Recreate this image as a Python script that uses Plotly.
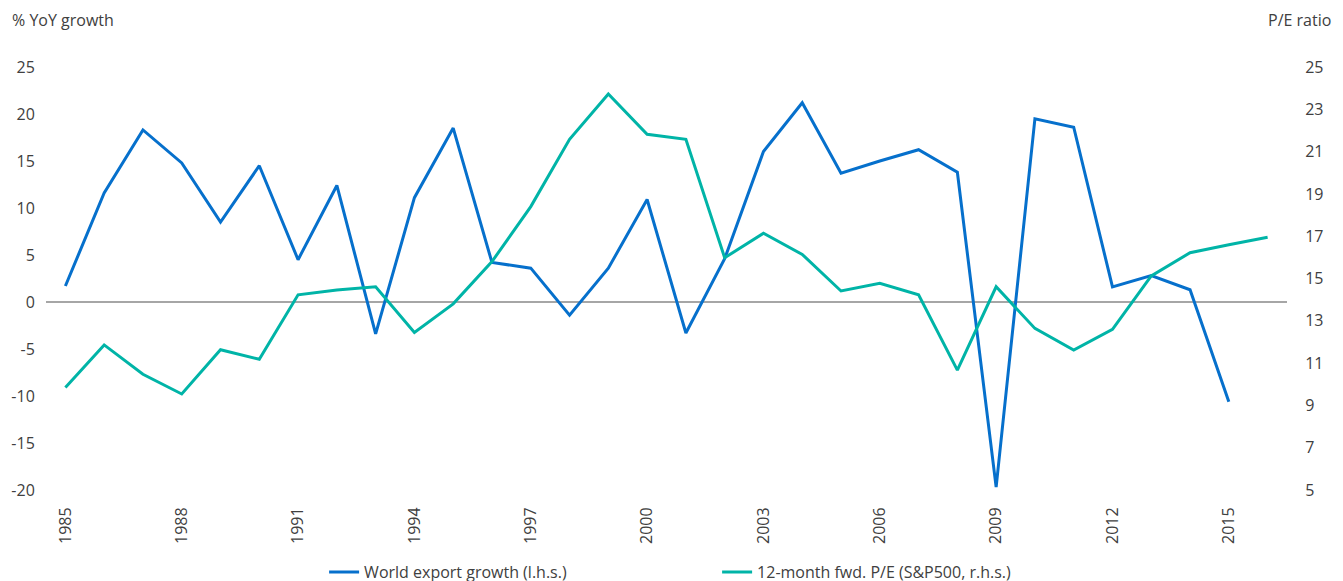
import plotly.graph_objects as go

years = list(range(1985, 2017))
export_years = list(range(1985, 2016))
export_growth = [1.7, 11.6, 18.3, 14.8, 8.5, 14.5, 4.5, 12.4, -3.4, 11.1, 18.5, 4.2, 3.6, -1.4,
                 3.6, 10.9, -3.3, 4.6, 16.0, 21.2, 13.7, 15.0, 16.2, 13.8, -19.7, 19.5, 18.6,
                 1.6, 2.8, 1.3, -10.6]
pe_ratio = [9.85, 11.86, 10.47, 9.54, 11.63, 11.18, 14.23, 14.46, 14.61, 12.45, 13.8, 15.8,
            18.4, 21.58, 23.72, 21.82, 21.58, 15.98, 17.14, 16.14, 14.41, 14.77, 14.23, 10.67,
            14.61, 12.64, 11.62, 12.6, 15.12, 16.22, 16.6, 16.95]
left_ticks = list(range(-20, 26, 5))
left_tick_labels = [str(v) for v in left_ticks]
right_ticks = list(range(5, 26, 2))
x_ticks = list(range(1985, 2016, 3))

BLUE = "#0670cc"
GREEN = "#00b4a7"
TXT = "#404040"
FONT = "Open Sans"

fig = go.Figure()
fig.add_trace(go.Scatter(x=export_years, y=export_growth, mode="lines",
                         name="World export growth (l.h.s.)",
                         line=dict(color=BLUE, width=3), yaxis="y"))
fig.add_trace(go.Scatter(x=years, y=pe_ratio, mode="lines",
                         name="12-month fwd. P/E (S&P500, r.h.s.)",
                         line=dict(color=GREEN, width=3), yaxis="y2"))

fig.update_layout(
    width=1343, height=581,
    margin=dict(l=38, r=64, t=59, b=99, autoexpand=False),
    paper_bgcolor="white", plot_bgcolor="white",
    font=dict(family=FONT, size=16, color=TXT),
    xaxis=dict(range=[1984.5, 2016.5], tickvals=x_ticks, tickangle=-90,
               showgrid=False, zeroline=False, showline=False, automargin=False,
               ticks="outside", ticklen=10, tickcolor="rgba(0,0,0,0)"),
    yaxis=dict(range=[-20, 25], tickvals=left_ticks, ticktext=left_tick_labels,
               showgrid=False, automargin=False,
               zeroline=True, zerolinecolor="#a6a6a6", zerolinewidth=1.5,
               showline=False, ticks="outside", ticklen=7, tickcolor="rgba(0,0,0,0)"),
    yaxis2=dict(range=[5, 25], tickvals=right_ticks, overlaying="y", side="right",
                showgrid=False, zeroline=False, showline=False, automargin=False,
                ticks="outside", ticklen=14, tickcolor="rgba(0,0,0,0)"),
    legend=dict(orientation="h", xref="container", x=0.528, xanchor="center",
                yref="container", y=0.029, yanchor="middle",
                entrywidth=348, entrywidthmode="pixels",
                font=dict(size=16, color=TXT), itemwidth=30),
    showlegend=True,
    annotations=[
        dict(text="% YoY growth", xref="paper", yref="paper", x=0, xshift=-36, y=1,
             yshift=47, xanchor="left", yanchor="middle", showarrow=False,
             font=dict(size=16, color=TXT)),
        dict(text="P/E ratio", xref="paper", yref="paper", x=1, xshift=46, y=1,
             yshift=47, xanchor="right", yanchor="middle", showarrow=False,
             font=dict(size=16, color=TXT)),
    ],
)

fig.write_html("out.html")
